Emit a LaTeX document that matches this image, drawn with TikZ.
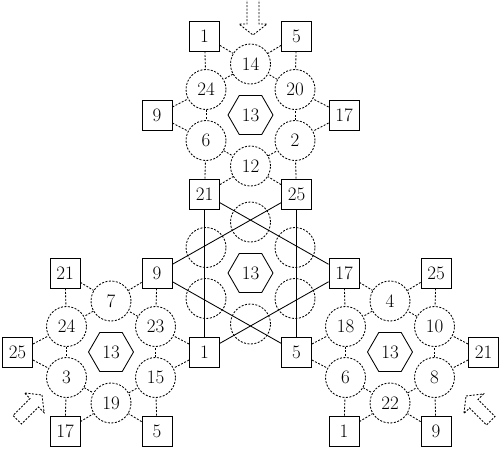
\documentclass[tikz,border=0pt]{standalone}
\usetikzlibrary{calc,shapes.geometric}
\begin{document}
\begin{tikzpicture}[x=1pt,y=-1pt,font=\fontsize{19}{22}\selectfont,
  dsh/.style={dash pattern=on 2pt off 1.5pt, line width=0.85pt},
  ring/.style={circle, draw, dsh, minimum size=40pt, inner sep=0pt},
  sq/.style={rectangle, draw, line width=0.85pt, minimum size=30pt, inner sep=0pt},
  hexa/.style={regular polygon, regular polygon sides=6, draw, line width=0.85pt, minimum size=45pt, inner sep=0pt},
  link/.style={dsh},
  bar/.style={line width=0.85pt},
  inarrow/.style={dsh, line join=miter}]
\useasboundingbox (0,0) rectangle (500,451);
\coordinate (C) at (250.5,273);
\coordinate (T) at (250.5,115);
\coordinate (B) at (111,352);
\coordinate (R) at (390,352);
% clusters
\foreach \P/\la/\lb/\lc/\ld/\le/\lf/\sa/\sb/\sc/\sd/\se/\sf in
  {T/14/24/6/12/2/20/1/9/21/25/17/5,
   B/7/24/3/19/15/23/21/25/17/5/1/9,
   R/4/18/6/22/8/10/17/5/1/9/21/25}{
  \node[hexa] (\P h) at (\P) {13};
  \node[ring] (\P a90)  at ($(\P)+(0,-51)$) {\la};
  \node[ring] (\P a150) at ($(\P)+(-44.5,-25.5)$) {\lb};
  \node[ring] (\P a210) at ($(\P)+(-44.5,25.5)$) {\lc};
  \node[ring] (\P a270) at ($(\P)+(0,51)$) {\ld};
  \node[ring] (\P a330) at ($(\P)+(44.5,25.5)$) {\le};
  \node[ring] (\P a30)  at ($(\P)+(44.5,-25.5)$) {\lf};
  \node[sq] (\P s120) at ($(\P)+(-46,-79)$) {\sa};
  \node[sq] (\P s180) at ($(\P)+(-93.5,0)$) {\sb};
  \node[sq] (\P s240) at ($(\P)+(-46,79)$) {\sc};
  \node[sq] (\P s300) at ($(\P)+(46,79)$) {\sd};
  \node[sq] (\P s0)   at ($(\P)+(93.5,0)$) {\se};
  \node[sq] (\P s60)  at ($(\P)+(46,-79)$) {\sf};
  \draw[link] (\P a90) -- (\P a150);
  \draw[link] (\P a150) -- (\P a210);
  \draw[link] (\P a210) -- (\P a270);
  \draw[link] (\P a270) -- (\P a330);
  \draw[link] (\P a330) -- (\P a30);
  \draw[link] (\P a30) -- (\P a90);
  \draw[link] (\P s120) -- (\P a90);
  \draw[link] (\P s120) -- (\P a150);
  \draw[link] (\P s180) -- (\P a150);
  \draw[link] (\P s180) -- (\P a210);
  \draw[link] (\P s240) -- (\P a210);
  \draw[link] (\P s240) -- (\P a270);
  \draw[link] (\P s300) -- (\P a270);
  \draw[link] (\P s300) -- (\P a330);
  \draw[link] (\P s0) -- (\P a330);
  \draw[link] (\P s0) -- (\P a30);
  \draw[link] (\P s60) -- (\P a30);
  \draw[link] (\P s60) -- (\P a90);
}
% central cluster
\node[hexa] (Ch) at (C) {13};
\node[ring] (Ca90)  at ($(C)+(0,-51)$) {};
\node[ring] (Ca150) at ($(C)+(-44.5,-25.5)$) {};
\node[ring] (Ca210) at ($(C)+(-44.5,25.5)$) {};
\node[ring] (Ca270) at ($(C)+(0,51)$) {};
\node[ring] (Ca330) at ($(C)+(44.5,25.5)$) {};
\node[ring] (Ca30)  at ($(C)+(44.5,-25.5)$) {};
\draw[bar] (Ts240) -- (Bs0);
\draw[bar] (Ts300) -- (Rs180);
\draw[bar] (Ts240) -- (Rs120);
\draw[bar] (Ts300) -- (Bs60);
\draw[bar] (Bs60) -- (Rs180);
\draw[bar] (Rs120) -- (Bs0);
% entry arrows
\begin{scope}[shift={(253,35)}, rotate=-90]
  \draw[inarrow] (-37,6) -- (-11,6) -- (-11,14) -- (0,0) -- (-11,-14) -- (-11,-6) -- (-37,-6);
\end{scope}
\begin{scope}[shift={(42,395)}, rotate=45]
  \draw[inarrow] (0,0) -- (-11,14) -- (-11,6) -- (-35,6) -- (-35,-6) -- (-11,-6) -- (-11,-14) -- cycle;
\end{scope}
\begin{scope}[shift={(466,396)}, rotate=135]
  \draw[inarrow] (0,0) -- (-11,14) -- (-11,6) -- (-35,6) -- (-35,-6) -- (-11,-6) -- (-11,-14) -- cycle;
\end{scope}
\end{tikzpicture}
\end{document}
